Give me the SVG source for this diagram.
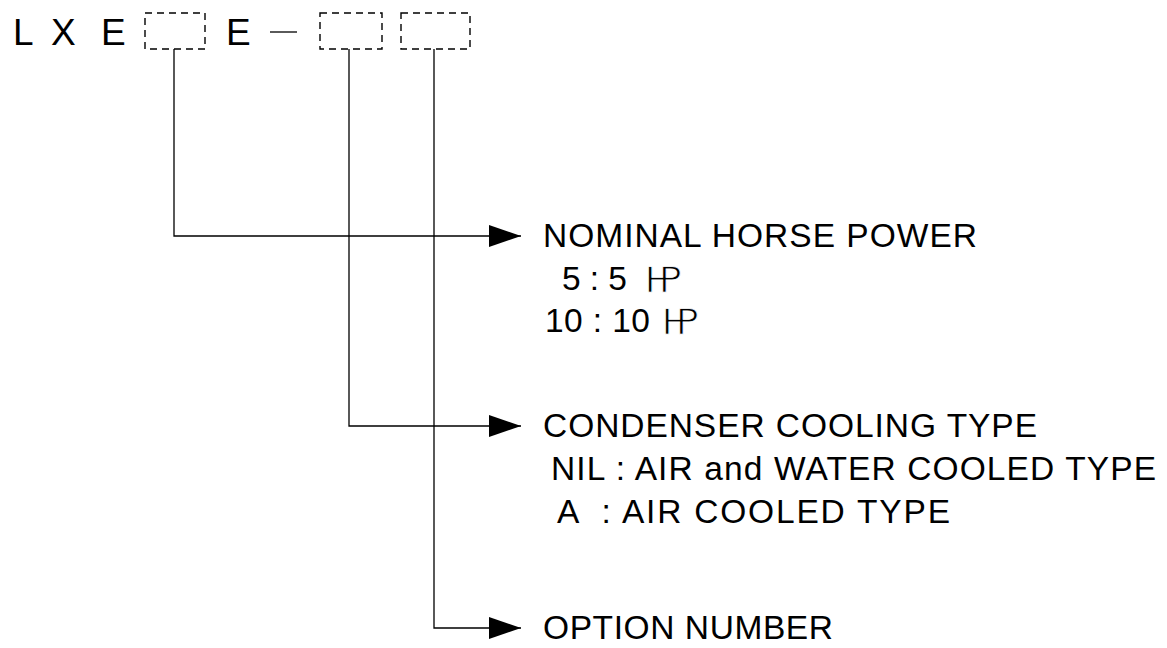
<svg xmlns="http://www.w3.org/2000/svg" width="1167" height="648" viewBox="0 0 1167 648">
<defs>
<style>
.t{font-family:"Liberation Sans",Arial,sans-serif;fill:#000}
.big{font-size:37px}
.lbl{font-size:33.5px}
.hp{font-family:"Noto Sans CJK JP","Liberation Sans",sans-serif;font-size:34px;fill:#000;stroke:#fff;stroke-width:0.8}
.box{fill:none;stroke:#000;stroke-width:1.4;stroke-dasharray:7 5}
.ln{fill:none;stroke:#000;stroke-width:1.3}
</style>
<marker id="ah" viewBox="0 0 32 22" refX="32" refY="11" markerWidth="32" markerHeight="22" markerUnits="userSpaceOnUse" orient="auto">
<path d="M0,0 L32,11 L0,22 Z" fill="#000"/>
</marker>
</defs>
<rect width="1167" height="648" fill="#fff"/>
<g id="model-code">
<text class="t big" x="13" y="45">L</text>
<text class="t big" x="51" y="45">X</text>
<text class="t big" x="101" y="45">E</text>
<rect class="box" x="145" y="13" width="60" height="36"/>
<text class="t big" x="226" y="45">E</text>
<line x1="270" y1="32" x2="297" y2="32" stroke="#000" stroke-width="1.3"/>
<rect class="box" x="320" y="13" width="62" height="36"/>
<rect class="box" x="401" y="13" width="69" height="36"/>
</g>
<g id="connectors">
<polyline class="ln" points="174,49 174,236 521,236" marker-end="url(#ah)"/>
<polyline class="ln" points="349,49 349,426 521,426" marker-end="url(#ah)"/>
<polyline class="ln" points="434,49 434,628 521,628" marker-end="url(#ah)"/>
</g>
<g id="horse-power">
<text class="t lbl" x="543" y="247" textLength="434" lengthAdjust="spacing">NOMINAL HORSE POWER</text>
<text class="t lbl" x="562" y="290" textLength="65" lengthAdjust="spacing">5 : 5</text>
<text class="hp" x="645" y="292" textLength="37" lengthAdjust="spacingAndGlyphs">㏋</text>
<text class="t lbl" x="545" y="332" textLength="105" lengthAdjust="spacing">10 : 10</text>
<text class="hp" x="662" y="334" textLength="37" lengthAdjust="spacingAndGlyphs">㏋</text>
</g>
<g id="cooling-type">
<text class="t lbl" x="543" y="437" textLength="494" lengthAdjust="spacing">CONDENSER COOLING TYPE</text>
<text class="t lbl" x="551" y="480" textLength="605" lengthAdjust="spacing">NIL : AIR and WATER COOLED TYPE</text>
<text class="t lbl" x="557" y="523" xml:space="preserve" textLength="393" lengthAdjust="spacing">A  : AIR COOLED TYPE</text>
</g>
<g id="option-number">
<text class="t lbl" x="543" y="639" textLength="290" lengthAdjust="spacing">OPTION NUMBER</text>
</g>
</svg>
